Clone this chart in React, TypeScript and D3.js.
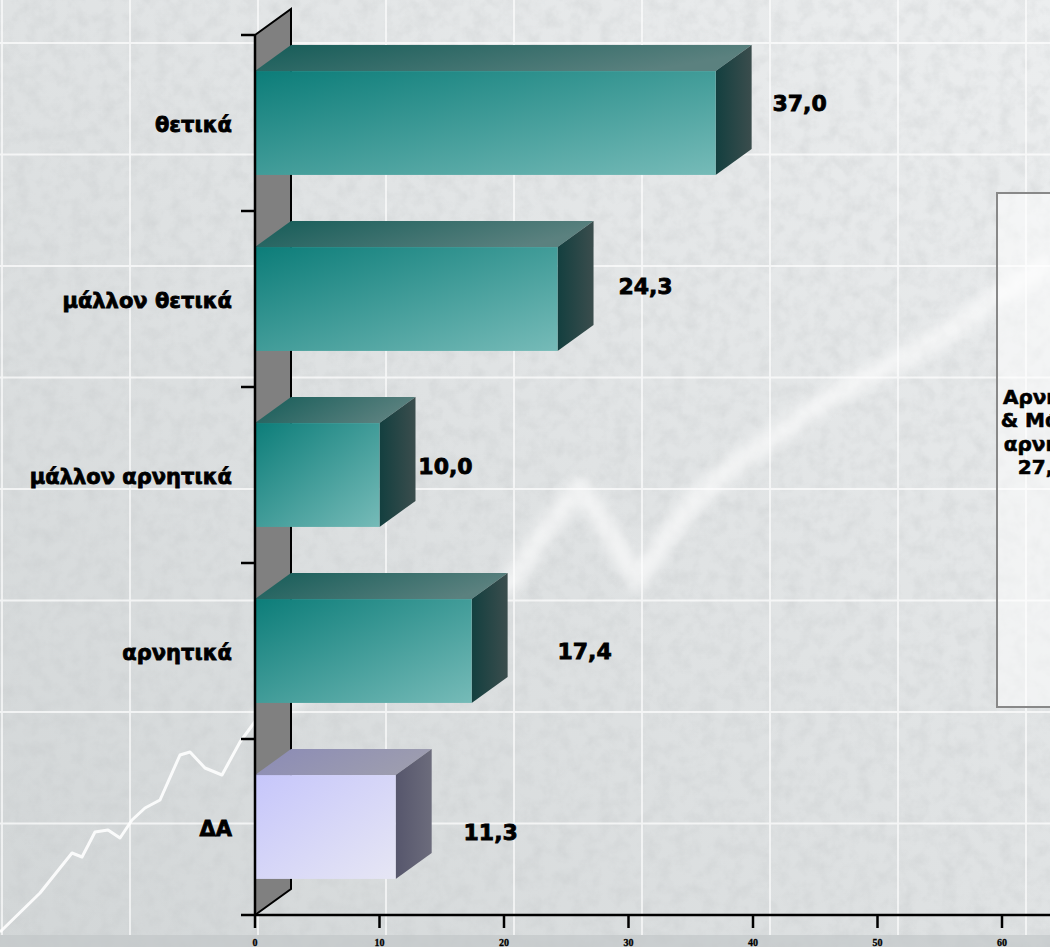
import React from "react";
import * as d3 from "d3";

const categories = ["θετικά", "μάλλον θετικά", "μάλλον αρνητικά", "αρνητικά", "ΔΑ"];
const values = [37.0, 24.3, 10.0, 17.4, 11.3];
const valueLabels = ["37,0", "24,3", "10,0", "17,4", "11,3"];
const xTicks = [0, 10, 20, 30, 40, 50, 60];
const boxLines = ["Αρνητικά", "& Μάλλον", "αρνητικά", "27,4 %"];

// layout constants (not data)
const W = 1050;
const H = 947;
const DEPTH_X = 36;
const DEPTH_Y = -26;
const labelDx = [84, 88, 66, 113, 95];
const labelDy = [-20, -13, -9, 0, 5];
const glowLeft: [number, number][] = [
  [0, 932], [40, 893], [72, 853], [82, 857], [95, 832], [108, 830], [120, 838],
  [132, 820], [145, 808], [160, 800], [180, 755], [190, 752], [205, 768],
  [222, 775], [240, 742], [262, 712],
];
const glowRight: [number, number][] = [
  [255, 722], [300, 692], [360, 662], [420, 640], [470, 615], [513, 580],
  [545, 530], [580, 487], [605, 525], [637, 580], [665, 540], [695, 500],
  [730, 468], [770, 440], [810, 410], [855, 383], [905, 358], [955, 328],
  [1000, 295], [1050, 262],
];

export default function App() {
  const x = d3.scaleLinear().domain([0, 60]).range([255, 1002]);
  const y = d3.scaleBand<string>().domain(categories).range([35, 915]).padding(0);
  const bw = y.bandwidth();
  const barH = bw * 0.59;
  const x0 = x(0);
  const line = d3.line();

  const gridX = d3.range(2, W + 1, 128);
  const gridY = d3.range(43, 935, 111.5);

  const isNA = (i: number) => i === categories.length - 1;
  const boldFont = "'DejaVu Sans', Verdana, sans-serif";
  const boxLineGap = 23.5;
  const boxMid = 432;

  return (
    <div style={{ position: "fixed", left: 0, top: 0 }}>
      <svg width={W} height={H} style={{ display: "block" }}>
        <defs>
          <linearGradient id="bg" x1="0" y1="1" x2="1" y2="0">
            <stop offset="0" stopColor="#d2d6d7" />
            <stop offset="0.5" stopColor="#dfe2e3" />
            <stop offset="1" stopColor="#eceeef" />
          </linearGradient>
          <filter id="noise" x="0" y="0" width="100%" height="100%">
            <feTurbulence type="fractalNoise" baseFrequency="0.07" numOctaves="4" seed="4" />
            <feColorMatrix type="matrix" values="0 0 0 0 0.55  0 0 0 0 0.57  0 0 0 0 0.58  0 0 0 1.6 -0.62" />
          </filter>
          <filter id="blur6" x="-10%" y="-10%" width="120%" height="120%">
            <feGaussianBlur stdDeviation="6" />
          </filter>
          <filter id="blur1">
            <feGaussianBlur stdDeviation="0.7" />
          </filter>
          <linearGradient id="frontT" x1="0" y1="0" x2="1" y2="1">
            <stop offset="0" stopColor="#0c7d79" />
            <stop offset="1" stopColor="#76bbb8" />
          </linearGradient>
          <linearGradient id="topT" x1="0" y1="0" x2="1" y2="0.3">
            <stop offset="0" stopColor="#155c58" />
            <stop offset="1" stopColor="#5b817f" />
          </linearGradient>
          <linearGradient id="sideT" x1="0" y1="0" x2="1" y2="0">
            <stop offset="0" stopColor="#133f3f" />
            <stop offset="1" stopColor="#3b4d4d" />
          </linearGradient>
          <linearGradient id="frontN" x1="0" y1="0" x2="1" y2="1">
            <stop offset="0" stopColor="#c6c6fb" />
            <stop offset="1" stopColor="#e6e6f4" />
          </linearGradient>
          <linearGradient id="topN" x1="0" y1="0" x2="1" y2="0.3">
            <stop offset="0" stopColor="#8b8bb6" />
            <stop offset="1" stopColor="#9d9daf" />
          </linearGradient>
          <linearGradient id="sideN" x1="0" y1="0" x2="1" y2="0">
            <stop offset="0" stopColor="#56566c" />
            <stop offset="1" stopColor="#6c6c7c" />
          </linearGradient>
        </defs>

        {/* background */}
        <rect x={0} y={0} width={W} height={H} fill="url(#bg)" />
        <rect x={0} y={0} width={W} height={H} filter="url(#noise)" opacity={0.4} />
        <rect x={0} y={935} width={W} height={H - 935} fill="#c2c6c7" opacity={0.65} />
        <g stroke="#ffffff" strokeWidth={1.8} opacity={0.7}>
          {gridX.map((gx) => (
            <line key={"gx" + gx} x1={gx} x2={gx} y1={0} y2={935} />
          ))}
          {gridY.map((gy) => (
            <line key={"gy" + gy} x1={0} x2={W} y1={gy} y2={gy} />
          ))}
        </g>
        <path d={line(glowRight) || ""} fill="none" stroke="#ffffff" strokeWidth={20} opacity={0.6} filter="url(#blur6)" strokeLinejoin="round" />
        <path d={line(glowLeft) || ""} fill="none" stroke="#ffffff" strokeWidth={3} opacity={0.9} filter="url(#blur1)" strokeLinejoin="round" />

        {/* side wall */}
        <path
          d={`M${x0},35 L${x0 + DEPTH_X},${35 + DEPTH_Y} L${x0 + DEPTH_X},${915 + DEPTH_Y} L${x0},915 Z`}
          fill="#808080"
        />
        <path
          d={`M${x0},35 L${x0 + DEPTH_X},${35 + DEPTH_Y} L${x0 + DEPTH_X},${915 + DEPTH_Y} L${x0},915`}
          stroke="#000"
          strokeWidth={2}
          fill="none"
        />

        {/* bars */}
        {categories.map((c, i) => {
          const v = values[i];
          const xr = x(v);
          const yt = (y(c) as number) + (bw - barH) / 2;
          const yb = yt + barH;
          const na = isNA(i);
          return (
            <g key={c}>
              <path
                d={`M${x0},${yt} L${xr},${yt} L${xr + DEPTH_X},${yt + DEPTH_Y} L${x0 + DEPTH_X},${yt + DEPTH_Y} Z`}
                fill={na ? "url(#topN)" : "url(#topT)"}
              />
              <path
                d={`M${xr},${yt} L${xr + DEPTH_X},${yt + DEPTH_Y} L${xr + DEPTH_X},${yb + DEPTH_Y} L${xr},${yb} Z`}
                fill={na ? "url(#sideN)" : "url(#sideT)"}
              />
              <rect x={x0} y={yt} width={xr - x0} height={barH} fill={na ? "url(#frontN)" : "url(#frontT)"} />
            </g>
          );
        })}

        {/* axes */}
        <g stroke="#000" strokeWidth={2.5}>
          <line x1={x0} x2={x0} y1={35} y2={915} />
          <line x1={241} x2={W} y1={915} y2={915} />
          {categories.map((c) => (
            <line key={"yt" + c} x1={241} x2={x0} y1={y(c) as number} y2={y(c) as number} />
          ))}
          {xTicks.map((t) => (
            <line key={"xt" + t} x1={x(t)} x2={x(t)} y1={915} y2={928} />
          ))}
        </g>
        <g
          fontFamily="'Liberation Serif', 'Times New Roman', serif"
          fontWeight="bold"
          fontSize={10}
          fill="#000"
          stroke="#000"
          strokeWidth={0.3}
          textAnchor="middle"
        >
          {xTicks.map((t) => (
            <text key={"xl" + t} x={x(t)} y={946}>
              {t}
            </text>
          ))}
        </g>

        {/* category labels */}
        <g fontFamily={boldFont} fontWeight="bold" fontSize={21} fill="#000" stroke="#000" strokeWidth={0.8} textAnchor="end">
          {categories.map((c) => (
            <text key={"cl" + c} x={232} y={(y(c) as number) + bw / 2 + 2} dominantBaseline="central">
              {c}
            </text>
          ))}
        </g>

        {/* value labels */}
        <g fontFamily={boldFont} fontWeight="bold" fontSize={22} fill="#000" stroke="#000" strokeWidth={0.8} textAnchor="middle">
          {categories.map((c, i) => (
            <text
              key={"vl" + c}
              x={x(values[i]) + labelDx[i]}
              y={(y(c) as number) + bw / 2 + labelDy[i]}
              dominantBaseline="central"
            >
              {valueLabels[i]}
            </text>
          ))}
        </g>

        {/* side note box */}
        <rect x={997} y={193} width={120} height={514} fill="#ffffff" fillOpacity={0.5} stroke="#888" strokeWidth={2} />
        <g fontFamily={boldFont} fontWeight="bold" fontSize={20} fill="#000" stroke="#000" strokeWidth={0.6} textAnchor="middle">
          {boxLines.map((t, i) => (
            <text
              key={"bl" + i}
              x={1056}
              y={boxMid + (i - (boxLines.length - 1) / 2) * boxLineGap}
              dominantBaseline="central"
            >
              {t}
            </text>
          ))}
        </g>
      </svg>
    </div>
  );
}
